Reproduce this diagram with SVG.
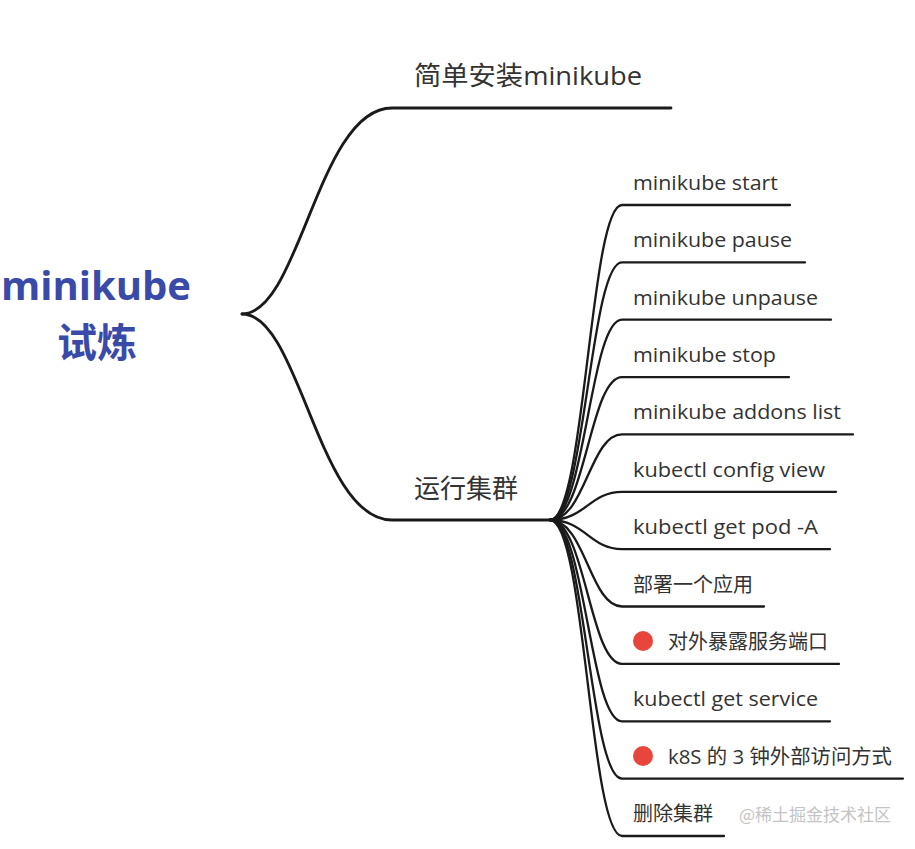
<svg xmlns="http://www.w3.org/2000/svg" width="915" height="849" viewBox="0 0 915 849">
<style>
.l1{fill:none;stroke:#1a1a1a;stroke-width:2.8;stroke-linecap:round}
.l2{fill:none;stroke:#1a1a1a;stroke-width:2.3;stroke-linecap:round}
.root{font-family:"Open Sans","Noto Sans CJK SC",sans-serif;font-weight:bold;font-size:40px;fill:#3a4aa8}
.t1{font-family:"Open Sans","Noto Sans CJK SC",sans-serif;font-size:26px;fill:#333}
.t2{font-family:"Open Sans","Noto Sans CJK SC",sans-serif;font-size:20px;fill:#333}
.wm{font-family:"Noto Sans CJK SC",sans-serif;font-size:17px;fill:#c4c4c4}
.dot{fill:#e8453c}
</style>
<rect width="915" height="849" fill="#ffffff"/>
<g id="connectors">
<path class="l1" d="M242,314 C300,314 318,108 392,108 H671"/>
<path class="l1" d="M242,314 C300,314 318,520 392,520 H552"/>
<path class="l2" d="M550,520 C585,520 590,205 622,205 H790"/>
<path class="l2" d="M550,520 C585,520 590,262.4 622,262.4 H805"/>
<path class="l2" d="M550,520 C585,520 590,319.7 622,319.7 H831"/>
<path class="l2" d="M550,520 C585,520 590,377.1 622,377.1 H789"/>
<path class="l2" d="M550,520 C585,520 590,434.4 622,434.4 H853"/>
<path class="l2" d="M550,520 C585,520 590,491.8 622,491.8 H836"/>
<path class="l2" d="M550,520 C585,520 590,549.2 622,549.2 H830"/>
<path class="l2" d="M550,520 C585,520 590,606.5 622,606.5 H764"/>
<path class="l2" d="M550,520 C585,520 590,663.9 622,663.9 H839"/>
<path class="l2" d="M550,520 C585,520 590,721.3 622,721.3 H830"/>
<path class="l2" d="M550,520 C585,520 590,778.6 622,778.6 H903"/>
<path class="l2" d="M550,520 C585,520 590,836 622,836 H724"/>
</g>
<g id="root">
<text class="root" x="96" y="300" text-anchor="middle" textLength="190" lengthAdjust="spacingAndGlyphs">minikube</text>
<text class="root" x="97" y="357" text-anchor="middle">试炼</text>
</g>
<g id="n-install"><text class="t1" x="414" y="85" textLength="228" lengthAdjust="spacingAndGlyphs">简单安装minikube</text></g>
<g id="n-run"><text class="t1" x="414" y="498">运行集群</text></g>
<g id="n-start"><text class="t2" x="633" y="190" textLength="145" lengthAdjust="spacingAndGlyphs">minikube start</text></g>
<g id="n-pause"><text class="t2" x="633" y="247.4" textLength="159" lengthAdjust="spacingAndGlyphs">minikube pause</text></g>
<g id="n-unpause"><text class="t2" x="633" y="304.7" textLength="185" lengthAdjust="spacingAndGlyphs">minikube unpause</text></g>
<g id="n-stop"><text class="t2" x="633" y="362.1" textLength="143" lengthAdjust="spacingAndGlyphs">minikube stop</text></g>
<g id="n-addons"><text class="t2" x="633" y="419.4" textLength="208" lengthAdjust="spacingAndGlyphs">minikube addons list</text></g>
<g id="n-config"><text class="t2" x="633" y="476.8" textLength="192" lengthAdjust="spacingAndGlyphs">kubectl config view</text></g>
<g id="n-getpod"><text class="t2" x="633" y="534.2" textLength="185" lengthAdjust="spacingAndGlyphs">kubectl get pod -A</text></g>
<g id="n-deploy"><text class="t2" x="633" y="591.5">部署一个应用</text></g>
<g id="n-expose"><circle class="dot" cx="643" cy="641" r="10"/><text class="t2" x="668" y="648.9">对外暴露服务端口</text></g>
<g id="n-getsvc"><text class="t2" x="633" y="706.3" textLength="185" lengthAdjust="spacingAndGlyphs">kubectl get service</text></g>
<g id="n-access"><circle class="dot" cx="643" cy="756" r="10"/><text class="t2" x="668" y="763.6" textLength="224" lengthAdjust="spacingAndGlyphs">k8S 的 3 钟外部访问方式</text></g>
<g id="n-delete"><text class="t2" x="633" y="821">删除集群</text></g>
<text class="wm" x="739" y="821">@稀土掘金技术社区</text>
</svg>
